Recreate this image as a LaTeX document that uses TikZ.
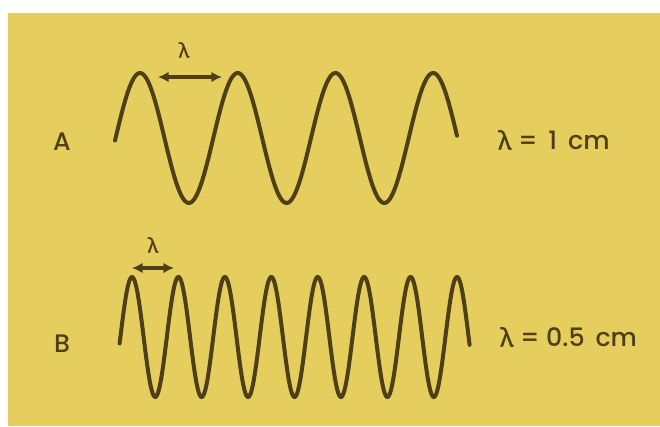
\documentclass[tikz,border=0pt]{standalone}
\usepackage{fontspec}
\setmainfont{Poppins}[UprightFont={* Medium}]
\newfontfamily\greekfont{Noto Sans}[FakeBold=1.2]
\usetikzlibrary{arrows.meta}
\definecolor{panel}{RGB}{230,206,94}
\definecolor{ink}{RGB}{78,64,22}
\newcommand{\lam}{{\greekfont λ}}
\tikzset{
  wave/.style={draw=ink, line width=3pt, line cap=round},
  dim/.style={draw=ink, line width=2.4pt, {Latex[length=8pt,width=8pt]}-{Latex[length=8pt,width=8pt]}},
  lbl/.style={text=ink, font=\fontsize{19}{21}\selectfont, inner sep=0pt},
  small/.style={text=ink, font=\fontsize{15}{17}\selectfont, inner sep=0pt}
}
\begin{document}
\begin{tikzpicture}[x=0.75pt,y=-0.75pt]
\useasboundingbox (0,0) rectangle (660,426);
\fill[white] (0,0) rectangle (660,426);
\fill[panel] (8,13) rectangle (660,426);
% wave A
\draw[wave] plot[domain=115:457, samples=240, smooth] (\x, {138-65*sin(3.6847*(\x-115.6))});
% wave B
\draw[wave] plot[domain=119.6:469.6, samples=480, smooth] (\x, {337-60*sin(7.7536*(\x-120.4))});
% dimension arrows
\coordinate (a1) at (158,77);
\coordinate (a2) at (222,77);
\draw[dim] (a1) -- (a2);
\node[small] (la) at (184,50) {\lam};
\coordinate (b1) at (132,268);
\coordinate (b2) at (174,268);
\draw[dim] (b1) -- (b2);
\node[small] (lb) at (153,245) {\lam};
% labels
\node[lbl] (A) at (62,142) {A};
\node[lbl] (B) at (62,344) {B};
\node[lbl, anchor=west] (va) at (498,140) {\lam\ =\ \,1\ \,cm};
\node[lbl, anchor=west] (vb) at (500,337) {\lam\ =\ 0.5\ \,cm};
\end{tikzpicture}
\end{document}
